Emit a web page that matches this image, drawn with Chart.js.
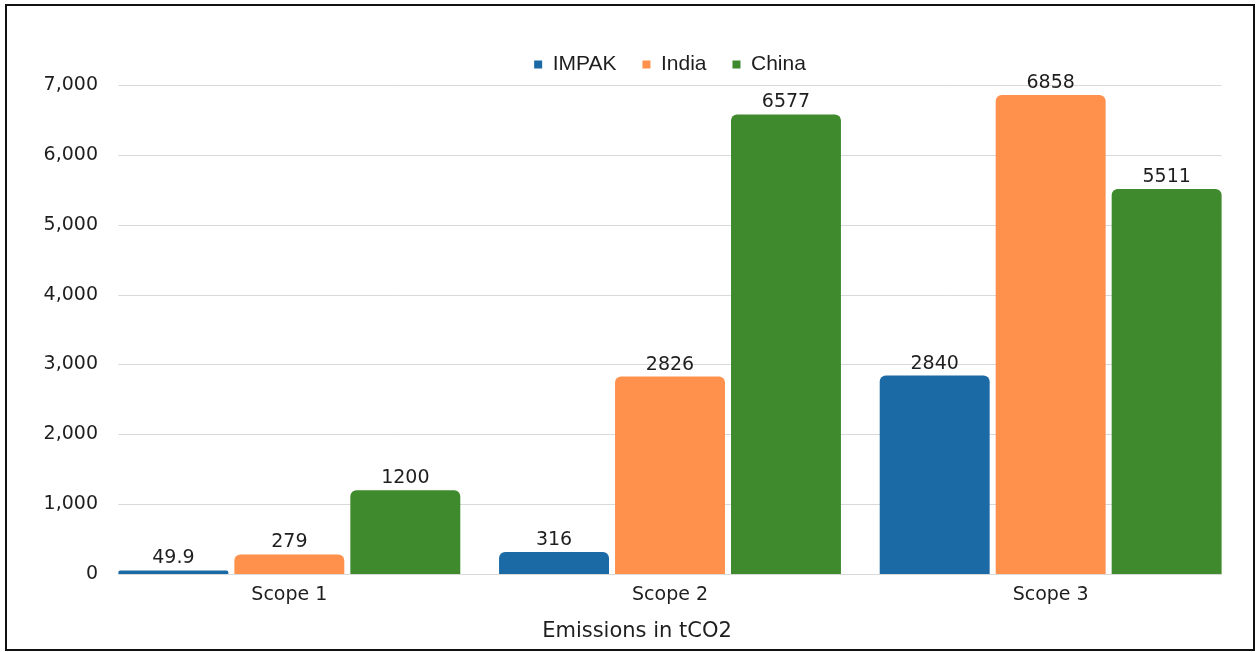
<!DOCTYPE html>
<html>
<head>
<meta charset="utf-8">
<script src="https://cdn.jsdelivr.net/npm/chart.js@4/dist/chart.umd.min.js"></script>
<style>
  html, body { margin: 0; padding: 0; background: #fff; }
  canvas { display: block; }
</style>
</head>
<body>
<canvas id="c" width="1257" height="652"></canvas>
<script>
// Emissions by scope (tCO2)
const categories = ['Scope 1', 'Scope 2', 'Scope 3'];
const seriesNames = ['IMPAK', 'India', 'China'];
const impak = [49.9, 316, 2840];
const india = [279, 2826, 6858];
const china = [1200, 6577, 5511];
const yTickValues = [0, 1000, 2000, 3000, 4000, 5000, 6000, 7000];
const axisTitle = 'Emissions in tCO2';

const seriesColors = ['#1b6aa6', '#ff914d', '#3f8a2d'];
const textColor = '#1e1e1e';
const gridColor = '#d9d9d9';
const mainFont = '"DejaVu Sans", sans-serif';

// Horizontal guide lines spanning the bar groups
const guideLines = {
  id: 'guideLines',
  beforeDatasetsDraw(chart) {
    const y = chart.scales.y;
    const first = chart.getDatasetMeta(0).data[0];
    const lastMeta = chart.getDatasetMeta(chart.data.datasets.length - 1);
    const last = lastMeta.data[lastMeta.data.length - 1];
    const x0 = first.x - first.width / 2;
    const x1 = last.x + last.width / 2;
    const ctx = chart.ctx;
    ctx.save();
    ctx.strokeStyle = gridColor;
    ctx.lineWidth = 1;
    yTickValues.forEach(v => {
      const py = Math.round(y.getPixelForValue(v)) + 0.5;
      ctx.beginPath();
      ctx.moveTo(x0, py);
      ctx.lineTo(x1, py);
      ctx.stroke();
    });
    ctx.restore();
  }
};

// Value labels above each bar
const valueLabels = {
  id: 'valueLabels',
  afterDatasetsDraw(chart) {
    const ctx = chart.ctx;
    ctx.save();
    ctx.font = '19px ' + mainFont;
    ctx.fillStyle = textColor;
    ctx.textAlign = 'center';
    ctx.textBaseline = 'middle';
    chart.data.datasets.forEach((ds, di) => {
      chart.getDatasetMeta(di).data.forEach((bar, i) => {
        ctx.fillText(String(ds.data[i]), bar.x, bar.y - 12);
      });
    });
    ctx.restore();
  }
};

// Axis title and outer frame
const frame = {
  id: 'frame',
  afterDraw(chart) {
    const ctx = chart.ctx;
    ctx.save();
    ctx.font = '21px ' + mainFont;
    ctx.fillStyle = textColor;
    ctx.textAlign = 'center';
    ctx.textBaseline = 'middle';
    ctx.fillText(axisTitle, 637, 632);
    ctx.strokeStyle = '#111';
    ctx.lineWidth = 2;
    ctx.strokeRect(6, 5, 1248, 645);
    ctx.restore();
  }
};

const whiteBg = {
  id: 'whiteBg',
  beforeDraw(chart) {
    const ctx = chart.ctx;
    ctx.save();
    ctx.fillStyle = '#fff';
    ctx.fillRect(0, 0, chart.width, chart.height);
    ctx.restore();
  }
};

const seriesData = [impak, india, china];

new Chart(document.getElementById('c'), {
  type: 'bar',
  data: {
    labels: categories,
    datasets: seriesNames.map((name, i) => ({
      label: name,
      data: seriesData[i],
      backgroundColor: seriesColors[i],
      borderRadius: { topLeft: 6, topRight: 6, bottomLeft: 0, bottomRight: 0 },
      borderSkipped: 'start',
      categoryPercentage: 0.914,
      barPercentage: 0.948
    }))
  },
  options: {
    responsive: false,
    animation: false,
    devicePixelRatio: 1,
    layout: { padding: { left: 6, right: 16, top: 28, bottom: 0 } },
    plugins: {
      tooltip: { enabled: false },
      legend: {
        position: 'top',
        align: 'center',
        fullSize: false,
        labels: {
          boxWidth: 8,
          boxHeight: 8,
          padding: 26,
          color: textColor,
          font: { family: '"Liberation Sans", Arial, sans-serif', size: 21 }
        }
      }
    },
    scales: {
      x: {
        grid: { display: false, drawTicks: false },
        border: { display: false },
        ticks: { color: textColor, padding: 10, font: { family: mainFont, size: 19 } },
        afterFit(s) { s.height = 78; }
      },
      y: {
        min: 0,
        max: 7000,
        grid: { display: false, drawTicks: false },
        border: { display: false },
        afterBuildTicks(s) { s.ticks = yTickValues.map(v => ({ value: v })); },
        ticks: {
          color: textColor,
          padding: 1,
          font: { family: mainFont, size: 19 },
          callback: v => v.toLocaleString('en-US')
        },
        afterFit(s) { s.width = 93; }
      }
    }
  },
  plugins: [whiteBg, guideLines, valueLabels, frame]
});
</script>
</body>
</html>
